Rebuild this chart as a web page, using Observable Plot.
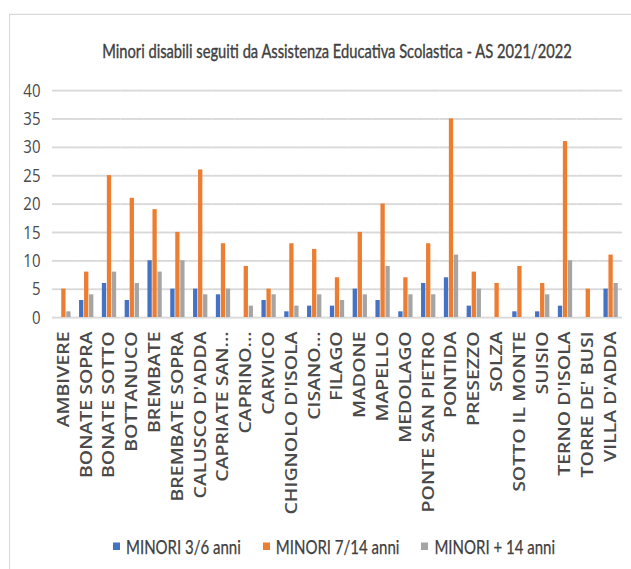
<!DOCTYPE html>
<html><head><meta charset="utf-8">
<script src="https://cdn.jsdelivr.net/npm/d3@7"></script>
<script src="https://cdn.jsdelivr.net/npm/@observablehq/plot@0.6"></script>
<style>
html,body{margin:0;padding:0;background:#fff;overflow:hidden;width:631px;height:569px;}
#stage{position:absolute;left:0;top:0;width:631px;height:455.2px;transform:scaleY(1.25);transform-origin:0 0;}
#frame{position:absolute;left:9px;top:11.2px;width:700px;height:600px;border-top:1.5px solid #d9d9d9;border-left:1.5px solid #d9d9d9;}
#title{position:absolute;left:337px;top:31px;transform:translateX(-50%);white-space:nowrap;font-family:Lato,sans-serif;font-size:14.7px;color:#404040;-webkit-text-stroke:0.3px #404040;}
#chart{position:absolute;left:0;top:0;}
#legend{position:absolute;left:334px;top:428px;transform:translateX(-50%);display:flex;gap:22px;white-space:nowrap;font-family:Lato,sans-serif;font-size:15px;color:#404040;-webkit-text-stroke:0.2px #404040;}
#legend span.item{display:flex;align-items:center;gap:6px;}
#legend span.sw{display:inline-block;width:7px;height:6.4px;}
</style></head>
<body>
<div id="stage">
  <div id="frame"></div>
  <div id="chart"></div>
  <div id="title"></div>
  <div id="legend"></div>
</div>
<script>
const titleText = "Minori disabili seguiti da Assistenza Educativa Scolastica - AS 2021/2022";
const towns = ["AMBIVERE","BONATE SOPRA","BONATE SOTTO","BOTTANUCO","BREMBATE","BREMBATE SOPRA","CALUSCO D'ADDA","CAPRIATE SAN...","CAPRINO...","CARVICO","CHIGNOLO D'ISOLA","CISANO...","FILAGO","MADONE","MAPELLO","MEDOLAGO","PONTE SAN PIETRO","PONTIDA","PRESEZZO","SOLZA","SOTTO IL MONTE","SUISIO","TERNO D'ISOLA","TORRE DE' BUSI","VILLA D'ADDA"];
const seriesNames = ["MINORI 3/6 anni","MINORI 7/14 anni","MINORI + 14 anni"];
const minori3_6  = [0,3,6,3,10,5,5,4,0,3,1,2,2,5,3,1,6,7,2,0,1,1,2,0,5];
const minori7_14 = [5,8,25,21,19,15,26,13,9,5,13,12,7,15,20,7,13,35,8,6,9,6,31,5,11];
const minori14   = [1,4,8,6,8,10,4,5,2,4,2,4,3,4,9,4,4,11,5,0,0,4,10,0,6];
const seriesColors = ["#4472C4","#ED7D31","#A5A5A5"];
const yTicks = [0,5,10,15,20,25,30,35,40];

const seriesValues = [minori3_6, minori7_14, minori14];
const data = towns.flatMap((t,i)=>seriesNames.map((s,j)=>({town:t, series:s, value:seriesValues[j][i]})));

document.getElementById("title").textContent = titleText;

const chart = Plot.plot({
  width:631, height:420,
  marginTop:72, marginBottom:166.4, marginLeft:52, marginRight:9,
  style:{fontFamily:"'Open Sans', sans-serif", color:"#505050", background:"transparent", overflow:"visible"},
  fx:{domain:towns, padding:0, round:false, label:null, axis:null},
  x:{domain:seriesNames, paddingInner:0.14, paddingOuter:0.85, round:false, axis:null},
  y:{domain:[0,40], axis:null},
  color:{domain:seriesNames, range:seriesColors},
  marks:[
    Plot.ruleY(yTicks, {stroke:"#d9d9d9", strokeOpacity:1, strokeWidth:1.5}),
    Plot.axisY(yTicks, {anchor:"left", tickSize:0, tickPadding:12, fontSize:15, fontWeight:500, fill:"#4a4a4a", label:null}),
    Plot.axisFx({anchor:"bottom", tickRotate:-90, tickSize:0, tickPadding:11, fontSize:15.6, fontWeight:600, fill:"#4a4a4a", label:null}),
    Plot.barY(data, {fx:"town", x:"series", y:"value", fill:"series"})
  ]
});
document.getElementById("chart").appendChild(chart);

const legend = document.getElementById("legend");
seriesNames.forEach((s,i)=>{
  const item = document.createElement("span"); item.className="item";
  const sw = document.createElement("span"); sw.className="sw"; sw.style.background=seriesColors[i];
  const tx = document.createElement("span"); tx.textContent = s;
  item.appendChild(sw); item.appendChild(tx); legend.appendChild(item);
});
</script>
</body></html>
